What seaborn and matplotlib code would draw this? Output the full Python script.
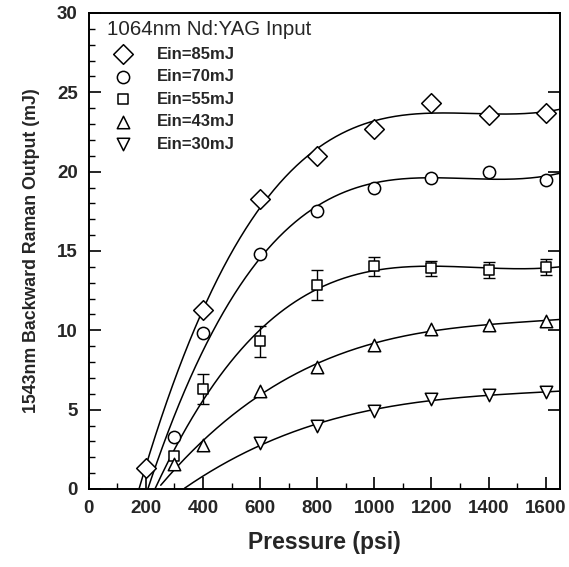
import numpy as np
import pandas as pd
import matplotlib
matplotlib.use("Agg")
import matplotlib.pyplot as plt
import seaborn as sns
from matplotlib.ticker import MultipleLocator

# data
pressure = [200, 300, 400, 600, 800, 1000, 1200, 1400, 1600]
labels = ["Ein=85mJ", "Ein=70mJ", "Ein=55mJ", "Ein=43mJ", "Ein=30mJ"]
markers = ["D", "o", "s", "^", "v"]
e85 = [1.3, np.nan, 11.3, 18.3, 21.0, 22.7, 24.3, 23.6, 23.7]
e70 = [np.nan, 3.3, 9.8, 14.8, 17.5, 19.0, 19.6, 20.0, 19.5]
e55 = [np.nan, 2.1, 6.3, 9.3, 12.85, 14.05, 13.9, 13.8, 14.0]
e55_err = [np.nan, np.nan, 0.95, 1.0, 0.95, 0.6, 0.5, 0.5, 0.5]
e43 = [np.nan, 1.6, 2.8, 6.2, 7.7, 9.1, 10.1, 10.35, 10.6]
e30 = [np.nan, np.nan, np.nan, 2.9, 4.0, 4.9, 5.7, 5.9, 6.1]
series = [e85, e70, e55, e43, e30]
# pressure where each fitted curve leaves zero
threshold = [175, 200, 230, 252, 335]

sns.set_style("ticks")
plt.rcParams["font.family"] = ["Liberation Sans", "DejaVu Sans"]

fig = plt.figure(figsize=(5.69, 5.67), dpi=100)
ax = fig.add_axes([0.156, 0.1376, 0.828, 0.8395])

sizes = {"D": 100, "o": 78, "s": 62, "^": 80, "v": 80}
for y, lab, m, p0 in zip(series, labels, markers, threshold):
    df = pd.DataFrame({"p": pressure, "e": y}).dropna()
    fx = np.r_[p0, df["p"]]
    fy = np.r_[0.0, df["e"]]
    coef = np.polyfit(fx, fy, 3)
    xs = np.linspace(p0, 1650, 300)
    curve = pd.DataFrame({"p": xs, "e": np.polyval(coef, xs)})
    sns.lineplot(data=curve, x="p", y="e", color="black", lw=1.1, ax=ax, zorder=2)
    sns.scatterplot(data=df, x="p", y="e", marker=m, s=sizes[m],
                    facecolor="white", edgecolor="black", linewidth=1.1,
                    label=lab, ax=ax, zorder=3)

ax.errorbar(pressure, e55, yerr=e55_err, fmt="none", ecolor="black",
            elinewidth=1.0, capsize=4, capthick=1.0, zorder=2.5)

ax.set_xlim(0, 1650)
ax.set_ylim(0, 30)
ax.xaxis.set_major_locator(MultipleLocator(200))
ax.xaxis.set_minor_locator(MultipleLocator(100))
ax.yaxis.set_major_locator(MultipleLocator(5))
ax.yaxis.set_minor_locator(MultipleLocator(1))
ax.tick_params(which="both", direction="in", top=False, color="black")
ax.tick_params(which="major", length=8.5, width=1.2, right=True)
ax.tick_params(which="minor", length=4.3, width=1.0, right=False)
ax.tick_params(axis="both", which="major", labelsize=13.5, pad=8)
for t in ax.get_xticklabels() + ax.get_yticklabels():
    t.set_fontweight("bold")
for s in ax.spines.values():
    s.set_linewidth(1.4)
    s.set_color("black")

ax.set_xlabel("Pressure (psi)", fontsize=16.5, fontweight="bold", labelpad=10)
ax.set_ylabel("1543nm Backward Raman Output (mJ)", fontsize=12.8, fontweight="bold", labelpad=12)

leg = ax.legend(title="1064nm Nd:YAG Input", loc="upper left",
                bbox_to_anchor=(0.038, 0.985), frameon=False,
                prop={"size": 12, "weight": "bold"}, title_fontsize=14.8,
                alignment="left", borderaxespad=0, borderpad=0,
                handlelength=2.0, handletextpad=1.0, labelspacing=0.45)

fig.savefig("out.png", dpi=100)
